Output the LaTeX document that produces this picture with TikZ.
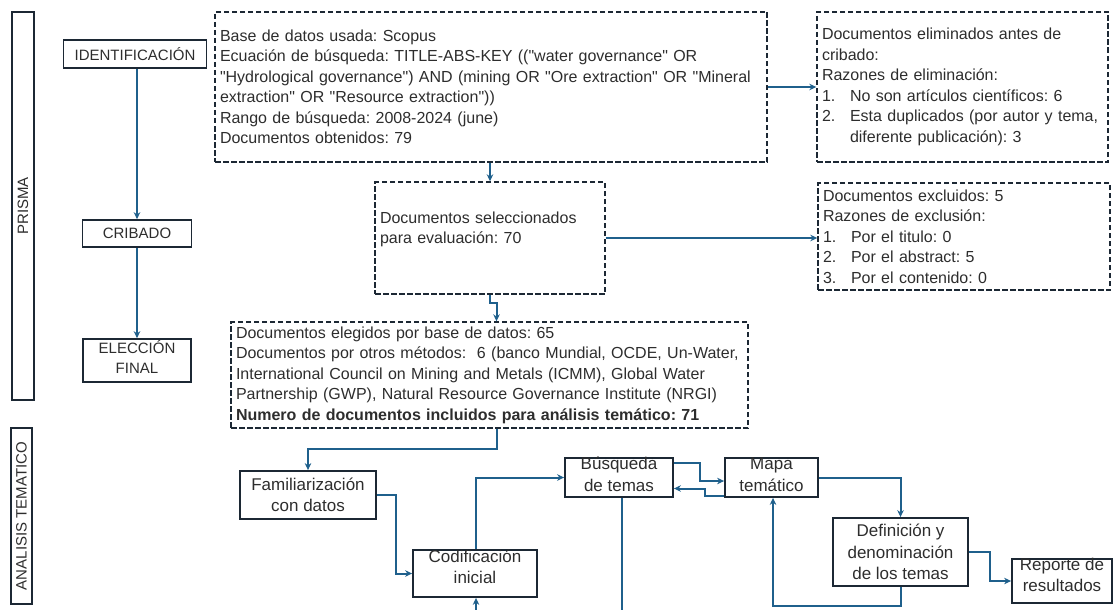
\documentclass[tikz,border=0pt]{standalone}
\usepackage{fontspec}
\setmainfont{Liberation Sans}[Ligatures=TeXOff]
\usetikzlibrary{arrows.meta}
\definecolor{flow}{RGB}{31,96,140}
\definecolor{edge}{RGB}{28,40,52}
\definecolor{ink}{RGB}{45,45,45}
\newcommand{\numitem}[1]{\makebox[28pt][l]{#1}}
\frenchspacing

\begin{document}
\begin{tikzpicture}[x=1pt,y=-1pt]
\tikzstyle{stage}=[draw=edge,line width=1.6pt,rectangle,inner sep=0pt,text=ink,align=center,font=\fontsize{15}{19}\selectfont]
\tikzstyle{side}=[stage,rotate=90]
\tikzstyle{info}=[draw=edge,line width=1.4pt,dash pattern=on 5.5pt off 2.5pt,rectangle,inner xsep=5pt,inner ysep=0pt,text=ink,align=left,font=\fontsize{16}{20.5}\selectfont]
\tikzstyle{task}=[draw=edge,line width=1.8pt,rectangle,inner sep=0pt,text=ink,align=center,font=\fontsize{17}{21.5}\selectfont]
\tikzstyle{tag}=[inner sep=0pt,text=ink,align=center,font=\fontsize{17}{21.5}\selectfont]
\tikzstyle{flowline}=[->,>={Stealth[length=7pt,width=6.5pt]},draw=flow,line width=2pt]
\useasboundingbox (0,0) rectangle (1113,610);
\clip (0,0) rectangle (1113,610);

% Phase labels
\node[side,minimum width=388pt,minimum height=22pt] (prisma) at (23,206) {PRISMA};
\node[side,minimum width=176pt,minimum height=21pt] (tematico) at (21.5,516) {ANALISIS TEMATICO};

% PRISMA stages
\node[stage,minimum width=143pt,minimum height=28pt] (ident) at (135,54) {IDENTIFICACIÓN};
\node[stage,minimum width=109pt,minimum height=27pt] (crib) at (137,233.5) {CRIBADO};
\node[stage,minimum width=108pt,minimum height=43pt] (elec) at (137,360.5) {};
\node[tag,font=\fontsize{15}{20}\selectfont] (elec-t) at (137,357) {ELECCIÓN\\FINAL};
\draw[flowline] (crib.north |- ident.south) -- (crib.north);
\draw[flowline] (crib) -- (elec);

% Step 1: identification
\node[info,text width=542pt,minimum height=150pt] (query) at (491,87) {Base de datos usada: Scopus\\
Ecuación de búsqueda: TITLE-ABS-KEY (("water governance" OR\\
"Hydrological governance") AND (mining OR "Ore extraction" OR "Mineral\\
extraction" OR "Resource extraction"))\\
Rango de búsqueda: 2008-2024 (june)\\
Documentos obtenidos: 79};
\node[info,text width=281pt,minimum height=150pt] (removed) at (962.5,87) {Documentos eliminados antes de\\
cribado:\\
Razones de eliminación:\\
\numitem{1.}No son artículos científicos: 6\\
\numitem{2.}Esta duplicados (por autor y tema,\\
\hspace*{28pt}diferente publicación): 3};
\draw[flowline] (query) -- (removed);

% Step 2: screening
\node[info,text width=220pt,minimum height=112pt] (sel) at (490,238) {Documentos seleccionados\\
para evaluación: 70\\ \mbox{}};
\node[info,text width=282pt,minimum height=107pt] (excl) at (964,236.5) {Documentos excluidos: 5\\
Razones de exclusión:\\
\numitem{1.}Por el titulo: 0\\
\numitem{2.}Por el abstract: 5\\
\numitem{3.}Por el contenido: 0};
\draw[flowline] (query.south -| sel.north) -- (sel.north);
\draw[flowline] (sel.east) -- (sel.east -| excl.west);

% Step 3: final choice
\node[info,text width=507pt,minimum height=106pt] (elig) at (489.5,375) {Documentos elegidos por base de datos: 65\\
Documentos por otros métodos:\ \ 6 (banco Mundial, OCDE, Un-Water,\\
International Council on Mining and Metals (ICMM), Global Water\\
Partnership (GWP), Natural Resource Governance Institute (NRGI)\\
\textbf{Numero de documentos incluidos para análisis temático: 71}};
\draw[flowline] (sel.south) -- ++(0,8) -| ([xshift=7pt]elig.north);

% Thematic analysis
\node[task,minimum width=136pt,minimum height=48pt] (fam) at (308,495) {Familiarización\\con datos};
\node[task,minimum width=124pt,minimum height=47pt] (cod) at (475,573.5) {};
\node[tag] (cod-t) at (475,567) {Codificación\\inicial};
\node[task,minimum width=108pt,minimum height=39pt] (bus) at (619,477.5) {};
\node[tag] (bus-t) at (619,474.5) {Búsqueda\\de temas};
\node[task,minimum width=93pt,minimum height=39pt] (mapa) at (771.5,477.5) {};
\node[tag] (mapa-t) at (771.5,474.5) {Mapa\\temático};
\node[task,minimum width=135pt,minimum height=68pt] (def) at (900.5,552) {Definición y\\denominación\\de los temas};
\node[task,minimum width=100pt,minimum height=44pt] (rep) at (1062,581) {};
\node[tag] (rep-t) at (1062,575) {Reporte de\\resultados};

\draw[flowline] ([xshift=7.5pt]elig.south) -- ++(0,20) -| (fam.north);
\draw[flowline] (fam.east) -- ++(19,0) |- (cod.west);
\draw[flowline] ([xshift=1pt]cod.north) |- (bus.west);
\draw[flowline] ([yshift=14.5pt]bus.east) -- ++(26,0) |- ([yshift=-3.5pt]mapa.west);
\draw[flowline] ([yshift=-18.5pt]mapa.west) -- ++(-19,0) |- ([yshift=-11pt]bus.east);
\draw[flowline] (mapa.east) -| (def.north);
\draw[flowline] (def.east) -- ++(21,0) |- (rep.west);
\draw[flowline] (def.south) -- ++(0,19) -| ([xshift=1.5pt]mapa.south);
\draw[flowline] ([xshift=3pt]bus.south) -- ++(0,130) -| ([xshift=1pt]cod.south);
\end{tikzpicture}
\end{document}
